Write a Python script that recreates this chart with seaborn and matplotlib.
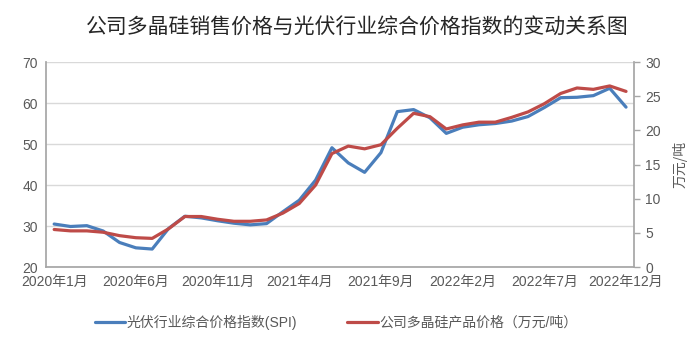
import matplotlib
matplotlib.use("Agg")
import matplotlib.pyplot as plt
import seaborn as sns
import pandas as pd
import numpy as np

# Monthly observations, Jan 2020 – Dec 2022
months = pd.period_range("2020-01", "2022-12", freq="M").strftime("%Y-%m").tolist()

# Photovoltaic industry composite price index (SPI), left axis
spi = [30.5, 29.9, 30.1, 28.8, 26.0, 24.7, 24.4, 29.4, 32.4, 32.0, 31.3, 30.7,
       30.3, 30.6, 33.5, 36.3, 41.2, 49.1, 45.4, 43.1, 47.9, 57.9, 58.4, 56.4,
       52.6, 54.1, 54.7, 55.0, 55.6, 56.7, 58.9, 61.3, 61.4, 61.8, 63.6, 59.0]

# Company polysilicon price (10k CNY / tonne), right axis
poly_price = [5.5, 5.3, 5.3, 5.1, 4.6, 4.3, 4.2, 5.6, 7.4, 7.4, 7.0, 6.7,
              6.7, 6.9, 7.9, 9.3, 12.0, 16.6, 17.7, 17.3, 17.9, 20.3, 22.5, 22.0,
              20.2, 20.8, 21.2, 21.2, 21.9, 22.7, 23.9, 25.4, 26.2, 26.0, 26.5, 25.7]

tick_months = ["2020-01", "2020-06", "2020-11", "2021-04", "2021-09",
               "2022-02", "2022-07", "2022-12"]
tick_labels = ["2020年1月", "2020年6月", "2020年11月", "2021年4月", "2021年9月",
               "2022年2月", "2022年7月", "2022年12月"]

spi_name = "光伏行业综合价格指数(SPI)"
poly_name = "公司多晶硅产品价格（万元/吨）"
title = "公司多晶硅销售价格与光伏行业综合价格指数的变动关系图"

df = pd.DataFrame({"idx": np.arange(len(months)), "month": months,
                   "spi": spi, "poly": poly_price})

sns.set_theme(style="white")
plt.rcParams["font.family"] = ["Liberation Sans", "Noto Sans CJK SC", "DejaVu Sans"]

blue = "#4A7EBB"
red = "#BE4B48"
grey_text = "#595959"
axis_grey = "#A6A6A6"

fig = plt.figure(figsize=(7.0, 3.42), dpi=100)
ax = fig.add_axes([0.0657, 0.219, 0.8403, 0.5997])
ax2 = ax.twinx()

sns.lineplot(data=df, x="idx", y="spi", ax=ax, color=blue, linewidth=2.3,
             label=spi_name, legend=False)
sns.lineplot(data=df, x="idx", y="poly", ax=ax2, color=red, linewidth=2.3,
             label=poly_name, legend=False)

ax.set_xlim(-0.5, len(months) - 0.5)
ax.set_ylim(20, 70)
ax.set_yticks(range(20, 71, 10))
ax2.set_ylim(0, 30)
ax2.set_yticks(range(0, 31, 5))

tick_pos = [months.index(m) for m in tick_months]
ax.set_xticks(tick_pos)
ax.set_xticklabels(tick_labels)

ax.set_xlabel("")
ax.set_ylabel("")
ax2.set_xlabel("")
ax2.set_ylabel("万元/吨", color=grey_text, fontsize=10,
                family=["Noto Sans CJK SC"], labelpad=8)

ax.yaxis.grid(True, color="#D9D9D9", linewidth=1.0)
ax.set_axisbelow(True)

for a in (ax, ax2):
    for side in ("top",):
        a.spines[side].set_visible(False)
    a.spines["left"].set_color(axis_grey)
    a.spines["bottom"].set_color(axis_grey)
    a.spines["right"].set_color(axis_grey)
ax.spines["right"].set_visible(False)
ax2.spines["left"].set_visible(False)
ax2.spines["bottom"].set_visible(False)

ax.tick_params(axis="x", length=0, pad=6, labelsize=10, labelcolor=grey_text)
ax.tick_params(axis="y", length=0, pad=6, labelsize=10, labelcolor=grey_text)
ax2.tick_params(axis="y", length=4, width=1, color=axis_grey, pad=4,
                labelsize=10, labelcolor=grey_text, right=True)

fig.suptitle(title, x=0.51, y=0.955, fontsize=15, color="#262626",
             family=["Noto Sans CJK SC"])

handles = ax.get_lines()[:1] + ax2.get_lines()[:1]
fig.legend(handles, [spi_name, poly_name], loc="center", bbox_to_anchor=(0.48, 0.058),
           ncol=2, frameon=False, fontsize=10, handlelength=2.2, handletextpad=0.1,
           columnspacing=3.6, labelcolor=grey_text)

fig.savefig("out.png", dpi=100, facecolor="white")
